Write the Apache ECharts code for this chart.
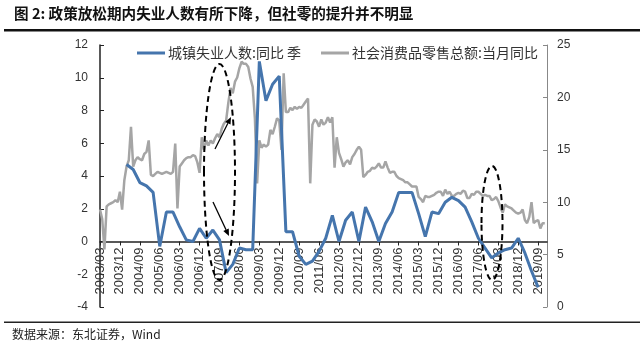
<!DOCTYPE html>
<html><head><meta charset="utf-8">
<script src="https://cdn.jsdelivr.net/npm/echarts@6/dist/echarts.min.js"></script>
<style>html,body{margin:0;padding:0;background:#fff}#c{width:640px;height:352px}</style>
</head><body><div id="c"></div>
<script>
// ---- text ----
const titleText = '图 2: 政策放松期内失业人数有所下降，但社零的提升并不明显';
const sourceText = '数据来源：东北证券，Wind';
const seriesNames = ['城镇失业人数:同比 季', '社会消费品零售总额:当月同比'];

// ---- axes ----
const leftAxis = { min: -4, max: 12, interval: 2 };
const rightAxis = { min: 0, max: 25, interval: 5 };
const startYear = 2003, startMonth = 3;   // first category 2003/03
const monthCount = 203;                   // through 2020/01

// ---- monthly categories ----
const months = [];
for (let i = 0; i < monthCount; i++) {
  const t = (startMonth - 1) + i;
  const y = startYear + Math.floor(t / 12), m = (t % 12) + 1;
  months.push(y + '/' + (m < 10 ? '0' + m : m));
}

// ---- 社会消费品零售总额:当月同比 (%), monthly from 2003/03 ----
const retail2003 = [9.3, 8.4, 5.5, 9.6, 9.8, 9.9, 10.0, 10.2, 10.0, 11.0];
const retail2004 = [9.3, 12.1, 13.4, 14.0, 17.2, 13.4, 14.0, 14.3, 14.1, 14.0, 14.6, 14.8];
const retail2005 = [15.9, 12.6, 12.5, 12.7, 12.9, 12.8, 12.7, 12.8, 12.9, 12.8, 12.7, 12.9];
const retail2006 = [15.6, 9.4, 13.4, 13.7, 14.0, 14.2, 14.3, 14.3, 14.5, 14.4, 13.8, 12.8];
const retail2007 = [16.2, 15.0, 15.9, 15.4, 15.9, 15.6, 16.1, 16.5, 16.2, 17.0, 17.5, 17.8];
const retail2008 = [19.5, 20.9, 20.4, 21.5, 21.9, 22.8, 23.4, 23.2, 23.2, 22.9, 21.8, 21.0];
const retail2009 = [18.0, 11.8, 15.9, 15.2, 15.5, 15.3, 15.5, 16.9, 16.5, 17.2, 18.0, 17.8];
const retail2010 = [15.0, 22.3, 18.6, 18.6, 19.0, 18.8, 19.1, 18.9, 19.1, 19.0, 19.3, 19.6];
const retail2011 = [19.9, 11.8, 17.4, 17.9, 17.7, 17.2, 17.9, 17.4, 17.6, 18.1, 17.6, 18.1];
const retail2012 = [13.3, 16.2, 14.7, 14.1, 13.4, 13.8, 14.0, 13.6, 14.3, 14.6, 15.0, 15.3];
const retail2013 = [15.0, 12.4, 12.6, 12.9, 13.0, 13.3, 13.2, 13.4, 13.7, 13.3, 13.3, 13.9];
const retail2014 = [13.3, 12.8, 12.9, 12.9, 12.5, 12.3, 12.2, 12.1, 11.9, 11.9, 11.7, 11.5];
const retail2015 = [11.5, 11.5, 10.5, 10.3, 10.0, 10.6, 10.5, 10.5, 10.6, 10.7, 10.9, 11.0];
const retail2016 = [11.0, 10.6, 11.2, 10.8, 11.0, 10.6, 10.6, 10.8, 10.9, 10.8, 11.1, 11.0];
const retail2017 = [10.4, 10.4, 10.8, 10.7, 11.0, 11.0, 10.8, 10.6, 10.7, 10.6, 10.6, 10.2];
const retail2018 = [10.3, 10.5, 10.1, 9.5, 9.0, 9.8, 9.6, 9.5, 9.4, 9.2, 9.0, 8.9];
const retail2019 = [9.0, 9.3, 8.3, 8.0, 8.6, 10.0, 8.0, 8.2, 8.3, 7.5, 8.0, 8.0];

// ---- 城镇失业人数:同比 季 (%), quarterly from 2004/03 ----
const unempStart = '2004/03';
const unemp = [4.7, 4.4, 3.6, 3.4, 3.0, -0.3, 1.8, 1.8, 0.9, 0.1,
  0.0, 0.8, 0.2, 0.7, 0.1, -1.9, -1.4, -0.4, -0.5, -0.5,
  11.0, 8.6, 9.6, 10.1, 0.6, 0.6, -0.9, -1.4, -1.2, -0.6,
  0.2, 1.6, 0.0, 1.3, 1.8, 0.0, 2.1, 1.2, 0.0, 1.1,
  1.8, 3.0, 3.0, 3.0, 1.7, 0.3, 1.8, 1.7, 2.4, 2.7,
  2.5, 2.1, 1.2, 0.2, -0.4, -1.0, -0.7, -0.5, -0.4, 0.2,
  -0.7, -1.8, -2.8];

const retail = [].concat(retail2003, retail2004, retail2005, retail2006, retail2007, retail2008,
  retail2009, retail2010, retail2011, retail2012, retail2013, retail2014, retail2015,
  retail2016, retail2017, retail2018, retail2019);
const s0 = months.indexOf(unempStart);
const unempData = unemp.map((v, i) => [s0 + 3 * i, v]);

const FONT = "'Liberation Sans','Noto Sans CJK SC',sans-serif";
const CJK = "'Noto Sans CJK SC',sans-serif";

const GRID = { left: 100, right: 93, top: 45, bottom: 45 };
const plotH = 352 - GRID.top - GRID.bottom;
// move the category axis up to the zero line of the left axis
const zeroOffset = -plotH * (0 - leftAxis.min) / (leftAxis.max - leftAxis.min);

const chart = echarts.init(document.getElementById('c'), null, { renderer: 'canvas' });

function arrow(x1, y1, x2, y2) {
  const a = Math.atan2(y2 - y1, x2 - x1), L = 7, W = 3;
  const bx = x2 - L * Math.cos(a), by = y2 - L * Math.sin(a);
  return [
    { type: 'line', shape: { x1, y1, x2: bx, y2: by }, style: { stroke: '#000', lineWidth: 1.3 }, z: 100 },
    { type: 'polygon', shape: { points: [[x2, y2], [bx + W * Math.sin(a), by - W * Math.cos(a)], [bx - W * Math.sin(a), by + W * Math.cos(a)]] }, style: { fill: '#000' }, z: 100 }
  ];
}

chart.setOption({
  animation: false,
  backgroundColor: '#fff',
  grid: Object.assign({ containLabel: false }, GRID),
  legend: {
    left: 132, top: 41, itemWidth: 28, itemHeight: 3, itemGap: 20, icon: 'rect',
    textStyle: { fontFamily: CJK, fontSize: 14, color: '#333', padding: [0, 0, 0, -2] },
    data: seriesNames
  },
  xAxis: {
    type: 'category', data: months, boundaryGap: false, position: 'bottom', offset: zeroOffset,
    axisLine: { onZero: false, lineStyle: { color: '#222', width: 1.5 } },
    axisTick: { show: true, interval: 8, length: 4, lineStyle: { color: '#222' } },
    axisLabel: { interval: 8, rotate: 90, fontSize: 13, color: '#333', fontFamily: FONT, margin: 6 },
    splitLine: { show: false }
  },
  yAxis: [
    {
      type: 'value', min: leftAxis.min, max: leftAxis.max, interval: leftAxis.interval,
      axisLine: { show: true, onZero: false, lineStyle: { color: '#222', width: 1.5 } },
      axisTick: { show: true, inside: true, length: 4, lineStyle: { color: '#222' } },
      axisLabel: { fontSize: 12, color: '#333', fontFamily: FONT, margin: 12 },
      splitLine: { show: false }
    },
    {
      type: 'value', min: rightAxis.min, max: rightAxis.max, interval: rightAxis.interval,
      position: 'right',
      axisLine: { show: true, onZero: false, lineStyle: { color: '#888', width: 1 } },
      axisTick: { show: true, inside: true, length: 4, lineStyle: { color: '#888' } },
      axisLabel: { fontSize: 12, color: '#333', fontFamily: FONT, margin: 10 },
      splitLine: { show: false }
    }
  ],
  series: [
    {
      name: seriesNames[0], type: 'line', yAxisIndex: 0, data: unempData,
      showSymbol: false, symbol: 'none', connectNulls: true, z: 5,
      lineStyle: { color: '#4575ad', width: 3 }, itemStyle: { color: '#4575ad' }
    },
    {
      name: seriesNames[1], type: 'line', yAxisIndex: 1, data: retail,
      showSymbol: false, symbol: 'none', z: 3,
      lineStyle: { color: '#a5a5a5', width: 2.5 }, itemStyle: { color: '#a5a5a5' }
    }
  ],
  graphic: [
    { type: 'text', left: 14, top: 6, style: { text: titleText, font: "bold 14.6px 'Noto Sans CJK SC'", fill: '#111' } },
    { type: 'rect', shape: { x: 4, y: 29, width: 636, height: 2.5 }, style: { fill: '#111' } },
    { type: 'rect', shape: { x: 4, y: 321.5, width: 636, height: 1.5 }, style: { fill: '#222' } },
    { type: 'text', left: 12, top: 328, style: { text: sourceText, font: "12px 'Noto Sans CJK SC'", fill: '#222' } },
    { type: 'ellipse', shape: { cx: 219.5, cy: 172, rx: 15.5, ry: 108 }, style: { fill: 'none', stroke: '#000', lineWidth: 2, lineDash: [6, 4] }, z: 100 },
    { type: 'ellipse', shape: { cx: 492, cy: 223, rx: 10.5, ry: 57 }, style: { fill: 'none', stroke: '#000', lineWidth: 2, lineDash: [6, 4] }, z: 100 }
  ].concat(arrow(215, 149, 231, 117), arrow(213, 202, 229, 236))
});
</script></body></html>
